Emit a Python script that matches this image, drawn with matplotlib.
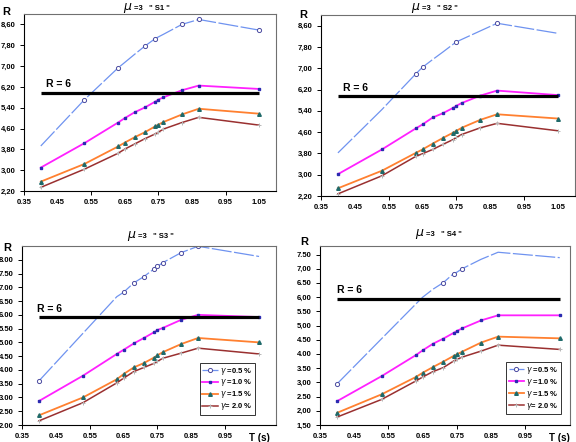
import matplotlib
matplotlib.use("Agg")
import matplotlib.pyplot as plt
from matplotlib.ticker import FixedLocator, FixedFormatter

plt.rcParams['font.family'] = ['Liberation Sans', 'DejaVu Sans']
plt.rcParams['mathtext.fontset'] = 'dejavusans'

# ---------------- data ----------------
T = [0.40, 0.53, 0.63, 0.65, 0.68, 0.71, 0.74, 0.75, 0.765, 0.82, 0.87, 1.05]
series_labels = [r'$\gamma$ =0.5 %', r'$\gamma$ =1.0 %', r'$\gamma$ =1.5 %', r'$\gamma$= 2.0 %']
panel_names = ['S1', 'S2', 'S3', 'S4']

s1_g05 = [3.93, 5.71, 6.93, 7.14, 7.46, 7.77, 8.05, 8.12, 8.22, 8.60, 8.79, 8.38]
s1_g10 = [3.10, 4.04, 4.83, 5.00, 5.23, 5.41, 5.63, 5.71, 5.80, 6.07, 6.25, 6.12]
s1_g15 = [2.56, 3.24, 3.91, 4.06, 4.27, 4.46, 4.68, 4.75, 4.85, 5.14, 5.36, 5.17]
s1_g20 = [2.34, 3.04, 3.65, 3.81, 4.01, 4.21, 4.39, 4.46, 4.58, 4.83, 5.03, 4.73]

s2_g05 = [3.82, 5.45, 6.79, 7.04, 7.33, 7.61, 7.90, 7.99, 8.08, 8.40, 8.69, 8.31]
s2_g10 = [3.02, 3.95, 4.74, 4.89, 5.15, 5.31, 5.51, 5.59, 5.69, 5.97, 6.16, 5.99]
s2_g15 = [2.49, 3.15, 3.82, 3.95, 4.17, 4.38, 4.58, 4.65, 4.76, 5.06, 5.27, 5.11]
s2_g20 = [2.28, 2.96, 3.69, 3.79, 3.95, 4.14, 4.32, 4.40, 4.51, 4.76, 4.93, 4.65]

s3_g05 = [3.60, 5.33, 6.66, 6.82, 7.16, 7.39, 7.67, 7.76, 7.89, 8.26, 8.49, 8.12]
s3_g10 = [2.87, 3.79, 4.58, 4.73, 4.96, 5.16, 5.37, 5.45, 5.52, 5.82, 6.00, 5.92]
s3_g15 = [2.35, 3.00, 3.66, 3.85, 4.09, 4.25, 4.45, 4.53, 4.64, 4.94, 5.16, 5.00]
s3_g20 = [2.15, 2.81, 3.53, 3.70, 3.94, 4.09, 4.24, 4.31, 4.42, 4.61, 4.79, 4.58]

s4_g05 = [2.95, 4.54, 5.76, 6.00, 6.28, 6.51, 6.83, 6.88, 7.00, 7.33, 7.58, 7.39]
s4_g10 = [2.34, 3.22, 3.96, 4.13, 4.36, 4.54, 4.74, 4.81, 4.90, 5.18, 5.36, 5.36]
s4_g15 = [1.93, 2.58, 3.19, 3.34, 3.54, 3.73, 3.93, 3.99, 4.08, 4.40, 4.61, 4.55]
s4_g20 = [1.78, 2.40, 3.05, 3.19, 3.38, 3.52, 3.75, 3.81, 3.89, 4.10, 4.31, 4.16]

r_line = [5.98, 5.94, 5.92, 5.94]
r_label = 'R = 6'

x_ticks = [0.35, 0.45, 0.55, 0.65, 0.75, 0.85, 0.95, 1.05]
x_labels_top = ['0.35', '0.45', '0.55', '0.65', '0.75', '0.85', '0.95', '1.05']
x_labels_bot = ['0.35', '0.45', '0.55', '0.65', '0.75', '0.85', '0.95', 'T (s)']

y_ticks_top = [2.2, 3.0, 3.8, 4.6, 5.4, 6.2, 7.0, 7.8, 8.6]
y_labels_top = ['2,20', '3,00', '3,80', '4,60', '5,40', '6,20', '7,00', '7,80', '8,60']
y_ticks_s3 = [2.0, 2.5, 3.0, 3.5, 4.0, 4.5, 5.0, 5.5, 6.0, 6.5, 7.0, 7.5, 8.0]
y_labels_s3 = ['2.00', '2.50', '3.00', '3.50', '4.00', '4.50', '5.00', '5.50', '6.00', '6.50', '7.00', '7.50', '8.00']
y_ticks_s4 = [1.5, 2.0, 2.5, 3.0, 3.5, 4.0, 4.5, 5.0, 5.5, 6.0, 6.5, 7.0, 7.5]
y_labels_s4 = ['1,50', '2,00', '2.50', '3,00', '3.50', '4.00', '4.50', '5,00', '5.50', '6,00', '6.50', '7,00', '7.50']

# ---------------- layout / style ----------------
W, H = 576, 442
def rect(l, r, t, b):
    return [l / W, 1 - b / H, (r - l) / W, (b - t) / H]

panels = [
    dict(rect=rect(24, 276, 14, 191), xlim=(0.35, 1.10), ylim=(2.2, 9.0),
         data=[s1_g05, s1_g10, s1_g15, s1_g20], mk=[1, 2, 5, 6, 9, 10, 11],
         yt=y_ticks_top, yl=y_labels_top, xl=x_labels_top, legend=False,
         title_x=0.43, title_dy=4, rx=0.415, R_pos=(-0.072, 1.012)),
    dict(rect=rect(321, 575, 15, 196), xlim=(0.35, 1.10), ylim=(2.2, 9.0),
         data=[s2_g05, s2_g10, s2_g15, s2_g20], mk=[2, 3, 7, 10],
         yt=y_ticks_top, yl=y_labels_top, xl=x_labels_top, legend=False,
         title_x=0.394, title_dy=5, rx=0.414, R_pos=(-0.07, 1.0)),
    dict(rect=rect(22, 276, 246, 425), xlim=(0.35, 1.10), ylim=(2.0, 8.5),
         data=[s3_g05, s3_g10, s3_g15, s3_g20], mk=[0, 3, 4, 5, 6, 7, 8, 9, 10],
         yt=y_ticks_s3, yl=y_labels_s3, xl=x_labels_bot, legend=True,
         leg_xy=(0.70, 0.056), title_x=0.45, title_dy=8, rx=0.394, R_pos=(-0.06, 0.99)),
    dict(rect=rect(320, 570, 246, 425), xlim=(0.35, 1.08), ylim=(1.5, 7.8),
         data=[s4_g05, s4_g10, s4_g15, s4_g20], mk=[0, 5, 6, 8],
         yt=y_ticks_s4, yl=y_labels_s4, xl=x_labels_bot, legend=True,
         leg_xy=(0.744, 0.06), title_x=0.42, title_dy=10, rx=0.40, R_pos=(-0.064, 1.025)),
]

colors = ['#6f93f0', '#ff20ff', '#ff8030', '#9a3030']
mk_colors = ['#4a4aa0', '#2a2ab0', '#1f6a6a', '#b8b8b8']

fig = plt.figure(figsize=(W / 100, H / 100), dpi=100)

for i, p in enumerate(panels):
    ax = fig.add_axes(p['rect'])
    d = p['data']
    ax.plot(T, d[0], color=colors[0], lw=0.9, dashes=(16, 2), marker='o', ms=3,
            mfc='white', mec=mk_colors[0], mew=0.7, markevery=p['mk'], label=series_labels[0])
    ax.plot(T, d[1], color=colors[1], lw=1.3, marker='s', ms=2, mfc=mk_colors[1],
            mec=mk_colors[1], label=series_labels[1])
    ax.plot(T, d[2], color=colors[2], lw=1.3, marker='^', ms=2.6, mfc=mk_colors[2],
            mec=mk_colors[2], label=series_labels[2])
    ax.plot(T, d[3], color=colors[3], lw=1.1, marker='+', ms=3, mec=mk_colors[3],
            mew=0.7, label=series_labels[3])
    ax.plot([T[0], T[-1]], [r_line[i], r_line[i]], color='black', lw=2.3, solid_capstyle='butt')
    ax.text(p['rx'], r_line[i] + 0.12, r_label, fontsize=7.5, fontweight='bold', va='bottom', ha='left')

    ax.set_xlim(*p['xlim'])
    ax.set_ylim(*p['ylim'])
    ax.xaxis.set_major_locator(FixedLocator(x_ticks))
    ax.xaxis.set_major_formatter(FixedFormatter(p['xl']))
    ax.yaxis.set_major_locator(FixedLocator(p['yt']))
    ax.yaxis.set_major_formatter(FixedFormatter(p['yl']))
    ax.tick_params(axis='both', labelsize=5.5, length=3, width=0.7, direction='out')
    ax.tick_params(axis='y', pad=3)
    ax.tick_params(axis='x', pad=3)
    for lab in ax.get_xticklabels() + ax.get_yticklabels():
        lab.set_fontweight('bold')
    for k, tk in enumerate(ax.xaxis.get_major_ticks()):
        if k % 2 == 1:
            tk.tick1line.set_visible(False)
    if p['xl'][-1] == 'T (s)':
        ax.get_xticklabels()[-1].set_fontsize(7)
        ax.xaxis.get_major_ticks()[-1].tick1line.set_visible(False)

    for s in ['left', 'bottom']:
        ax.spines[s].set_color('black')
        ax.spines[s].set_linewidth(0.8)
    for s in ['top', 'right']:
        ax.spines[s].set_color('#707070')
        ax.spines[s].set_linewidth(0.8)

    # axis "R"
    ax.text(p['R_pos'][0], p['R_pos'][1], 'R', transform=ax.transAxes, fontsize=8,
            fontweight='bold', ha='center', va='center')

    # title
    dy = p['title_dy'] / (p['rect'][3] * H)
    ax.text(p['title_x'], 1 + dy, r'$\mu$', transform=ax.transAxes, fontsize=9,
            ha='right', va='baseline')
    ax.text(p['title_x'] + 0.005, 1 + dy, '=3   " ' + panel_names[i] + ' "', transform=ax.transAxes,
            fontsize=5.5, fontweight='bold', ha='left', va='baseline')

    if p['legend']:
        leg = ax.legend(loc='lower left', bbox_to_anchor=p['leg_xy'], borderaxespad=0,
                        fontsize=5.5, frameon=True, fancybox=False, handlelength=2.0,
                        handletextpad=0.3, borderpad=0.35, labelspacing=0.12)
        leg.get_frame().set_edgecolor('black')
        leg.get_frame().set_linewidth(0.7)
        for t in leg.get_texts():
            t.set_fontweight('bold')

fig.savefig('out.png', dpi=100)
